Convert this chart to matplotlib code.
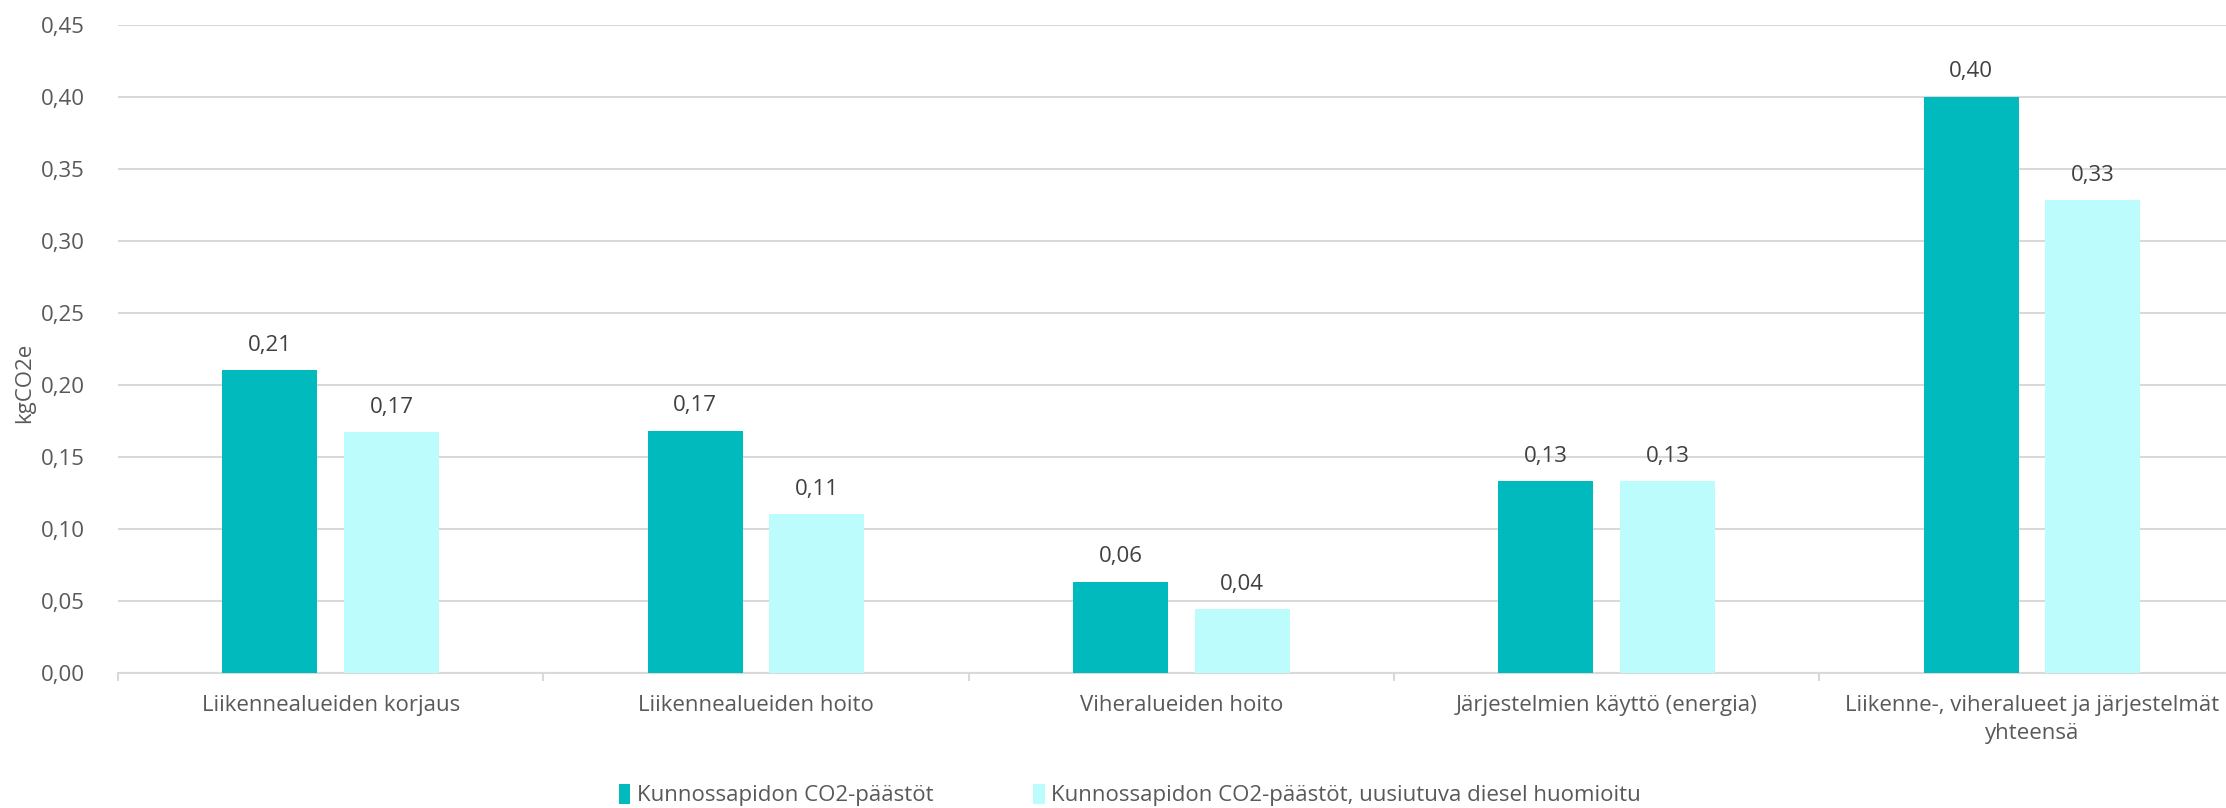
import matplotlib
matplotlib.use("Agg")
import matplotlib.pyplot as plt
import numpy as np
from matplotlib.patches import Patch

categories = [
    "Liikennealueiden korjaus",
    "Liikennealueiden hoito",
    "Viheralueiden hoito",
    "Järjestelmien käyttö (energia)",
    "Liikenne-, viheralueet ja järjestelmät\nyhteensä",
]
series_names = [
    "Kunnossapidon CO2-päästöt",
    "Kunnossapidon CO2-päästöt, uusiutuva diesel huomioitu",
]
emissions = [0.210, 0.168, 0.063, 0.133, 0.400]
emissions_renewable = [0.167, 0.110, 0.044, 0.133, 0.328]
y_ticks = [0.00, 0.05, 0.10, 0.15, 0.20, 0.25, 0.30, 0.35, 0.40, 0.45]
y_label = "kgCO2e"

DARK = "#00BABD"
LIGHT = "#BDFCFC"
TEXT = "#595959"
LABEL = "#404040"
GRID = "#D9D9D9"
FS = 16

plt.rcParams["font.family"] = ["Open Sans", "DejaVu Sans"]

W, H = 2226, 808
fig = plt.figure(figsize=(W / 100, H / 100), dpi=100)
left_px, top_px, bottom_px, cat_px = 118, 24.7, 672.7, 425.3
ax = fig.add_axes([left_px / W, (H - bottom_px) / H,
                   5 * cat_px / W, (bottom_px - top_px) / H])

x = np.arange(len(categories))
bw = 0.2235
off = 0.143
b1 = ax.bar(x - off, emissions, width=bw, color=DARK, zorder=3)
b2 = ax.bar(x + off, emissions_renewable, width=bw, color=LIGHT, zorder=3)

for bars, vals in ((b1, emissions), (b2, emissions_renewable)):
    for rect, v in zip(bars, vals):
        ax.annotate(f"{v:.2f}".replace(".", ","),
                    (rect.get_x() + rect.get_width() / 2, v),
                    xytext=(0, 18), textcoords="offset points",
                    ha="center", va="center", fontsize=FS, color=LABEL)

ax.set_xlim(-0.5, len(categories) - 0.5)
ax.set_ylim(0, 0.45)
ax.set_yticks(y_ticks)
ax.set_yticklabels([f"{t:.2f}".replace(".", ",") for t in y_ticks])
ax.yaxis.grid(True, color=GRID, linewidth=1.5, zorder=0)
ax.set_axisbelow(True)

ax.set_xticks(x)
ax.set_xticklabels(categories, fontsize=FS, color=TEXT, linespacing=1.45)
ax.set_xticks(np.arange(-0.5, len(categories), 1.0), minor=True)
ax.tick_params(axis="x", which="major", length=0, pad=16)
ax.tick_params(axis="x", which="minor", length=6, width=1.5, color=GRID)
ax.tick_params(axis="y", length=0, pad=24, labelsize=FS, labelcolor=TEXT)

for s in ("top", "right", "left"):
    ax.spines[s].set_visible(False)
ax.spines["bottom"].set_color(GRID)
ax.spines["bottom"].set_linewidth(1.5)

fig.text(25 / W, 1 - 383 / H, y_label, rotation=90, ha="center", va="center",
         fontsize=FS, color=TEXT)

handles = [Patch(facecolor=DARK, edgecolor="none"),
           Patch(facecolor=LIGHT, edgecolor="none")]
fig.legend(handles, series_names, loc="center", bbox_to_anchor=(1130 / W, 1 - 795 / H),
           ncol=2, frameon=False, fontsize=FS, labelcolor=TEXT,
           handlelength=0.5, handleheight=1.0, handletextpad=0.3,
           columnspacing=4.5, borderpad=0)

fig.savefig("out.png", dpi=100)
